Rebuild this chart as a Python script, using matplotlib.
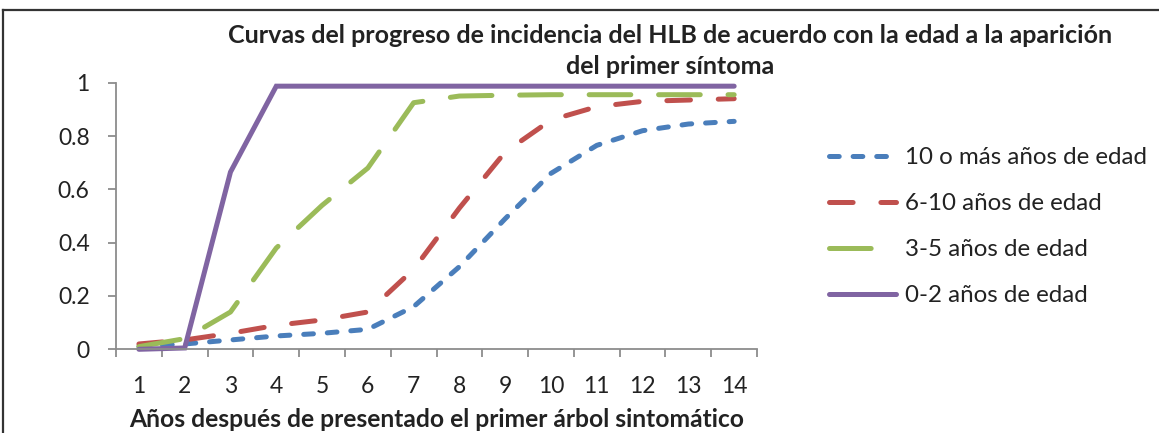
import matplotlib
matplotlib.use("Agg")
import matplotlib.pyplot as plt
from matplotlib.lines import Line2D

plt.rcParams['font.family'] = ['Lato', 'DejaVu Sans']
plt.rcParams['lines.scale_dashes'] = False

# ******************* data *******************
years = list(range(1, 15))
edad_10_mas = [0.01, 0.02, 0.035, 0.05, 0.06, 0.075, 0.16, 0.31, 0.49, 0.66, 0.765, 0.82, 0.845, 0.855]
edad_6_10 = [0.02, 0.035, 0.06, 0.09, 0.11, 0.14, 0.30, 0.53, 0.74, 0.86, 0.91, 0.93, 0.935, 0.94]
edad_3_5 = [0.01, 0.04, 0.14, 0.38, 0.54, 0.68, 0.925, 0.95, 0.953, 0.955, 0.955, 0.955, 0.955, 0.955]
edad_0_2 = [0.0, 0.005, 0.665, 0.987, 0.987, 0.987, 0.987, 0.987, 0.987, 0.987, 0.987, 0.987, 0.987, 0.987]

labels = ["10 o más años de edad", "6-10 años de edad", "3-5 años de edad", "0-2 años de edad"]
y_ticks = [0, 0.2, 0.4, 0.6, 0.8, 1]
y_tick_labels = ["0", "0.2", "0.4", "0.6", "0.8", "1"]

# ******************* figure *******************
fig = plt.figure(figsize=(11.59, 4.33), dpi=100)
ax = fig.add_axes([0.1001, 0.1933, 0.5531, 0.6157])

lw = 3.6
ax.plot(years, edad_10_mas, color="#4a7ebb", lw=lw, dashes=(7, 10), dash_capstyle="round",
        label=labels[0], clip_on=False)
ax.plot(years, edad_6_10, color="#c0504d", lw=lw, dashes=(17, 20), dash_capstyle="round",
        label=labels[1], clip_on=False)
ax.plot(years, edad_3_5, color="#9bbb59", lw=lw, dashes=(30, 20), dash_capstyle="round",
        label=labels[2], clip_on=False)
ax.plot(years, edad_0_2, color="#8064a2", lw=lw, solid_capstyle="round", solid_joinstyle="miter",
        label=labels[3], clip_on=False)

ax.set_xlim(0.5, 14.5)
ax.set_ylim(0, 1)
ax.set_xticks([x + 0.5 for x in range(0, 15)])
ax.set_xticklabels([])
ax.set_xticks(years, minor=True)
ax.set_xticklabels([str(y) for y in years], minor=True, fontsize=16.5, color="#222222")
ax.tick_params(axis="x", which="major", length=6, width=1.3, color="#8c8c8c", direction="out")
ax.tick_params(axis="x", which="minor", length=0, pad=19)
ax.set_yticks(y_ticks)
ax.set_yticklabels(y_tick_labels, fontsize=16.5, color="#222222")
ax.tick_params(axis="y", length=6, width=1.3, color="#8c8c8c", pad=13)

for side in ["top", "right"]:
    ax.spines[side].set_visible(False)
for side in ["left", "bottom"]:
    ax.spines[side].set_color("#8c8c8c")
    ax.spines[side].set_linewidth(1.3)

ax.set_xlabel("Años después de presentado el primer árbol sintomático", fontsize=17.7,
              fontweight="bold", color="#222222", labelpad=8)

fig.text(0.578, 0.882, "Curvas del progreso de incidencia del HLB de acuerdo con la edad a la aparición\ndel primer síntoma",
         ha="center", va="center", fontsize=18, fontweight="bold", color="#222222", linespacing=1.42)

ax.legend(loc="center left", bbox_to_anchor=(1.078, 0.46), frameon=False, fontsize=17.4,
          handlelength=2.8, handletextpad=0.35, labelspacing=1.03, labelcolor="#222222")

# frame round the chart
fig.add_artist(Line2D([0.0026, 0.0026], [0, 0.977], transform=fig.transFigure, color="#333333", lw=1.6))
fig.add_artist(Line2D([0.0026, 1], [0.977, 0.977], transform=fig.transFigure, color="#333333", lw=1.6))

fig.savefig("out.png", dpi=100)
